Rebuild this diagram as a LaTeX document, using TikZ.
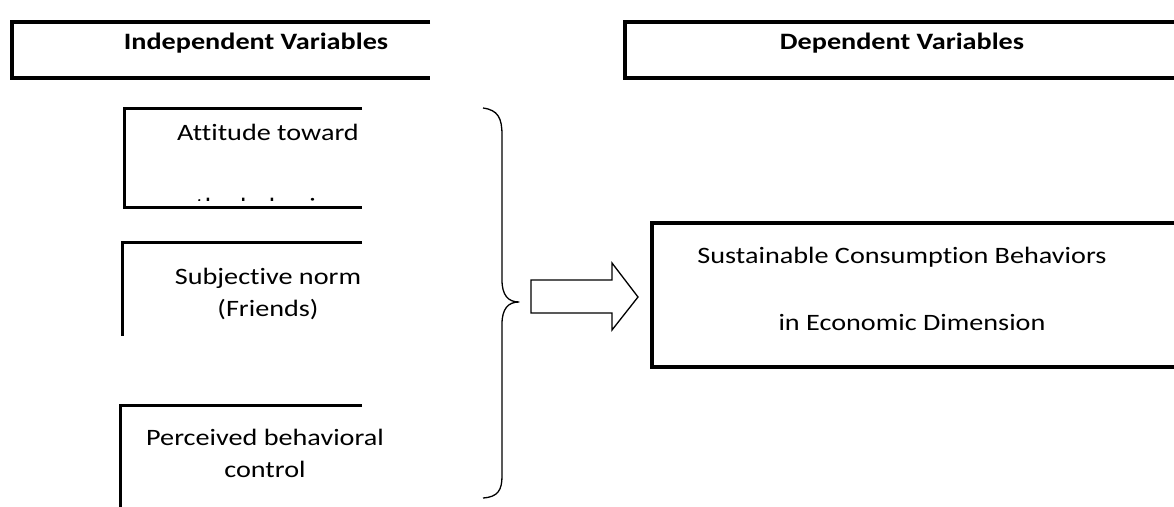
\documentclass[tikz,border=0pt]{standalone}
\usepackage{fontspec}
\setmainfont[FakeStretch=1.2, Ligatures=NoCommon]{Carlito}
\begin{document}
\begin{tikzpicture}[x=1pt, y=-1pt,
	lbl/.style={anchor=base, inner sep=0pt, font=\fontsize{23.5}{27}\selectfont},
	hdr/.style={lbl, font=\fontsize{23.5}{27}\selectfont\bfseries},
	frame/.style={line width=3.5pt},
	thin/.style={line width=1.3pt, line join=round}]
	\useasboundingbox (0,0) rectangle (1174,506);

	% headers
	\draw[frame] (430,22) -| (12,78) -- (430,78);
	\node[hdr] (hdrIndep) at (256,49) {Independent Variables};
	\draw[frame] (1180,22) -| (625,78) -- (1180,78);
	\node[hdr] (hdrDep) at (902,49) {Dependent Variables};

	% independent boxes
	\draw[frame, line width=3pt] (362,108) -| (124,207) -- (362,207);
	\node[lbl] (att1) at (268,140) {Attitude toward};
	\begin{scope}
		\clip (126,110) rectangle (362,200);
		\node[lbl] (att2) at (268,214) {the behavior};
	\end{scope}

	\draw[frame, line width=3pt] (362,242) -| (122,336);
	\node[lbl] (subj1) at (268,284) {Subjective norm};
	\node[lbl] (subj2) at (268,316) {(Friends)};

	\draw[frame, line width=3pt] (362,405) -| (120,510);
	\node[lbl] (perc1) at (265,445) {Perceived behavioral};
	\node[lbl] (perc2) at (265,477) {control};

	% brace and arrow
	\draw[thin] (483,108) .. controls (498,110) and (502,118) .. (502,135) -- (502,280)
		.. controls (502,295) and (508,302) .. (519,302)
		.. controls (508,302) and (502,309) .. (502,324) -- (502,476)
		.. controls (502,490) and (498,497) .. (483,498);
	\draw[thin, line join=miter] (531,280) -- (612,280) -- (612,263) -- (638,297)
		-- (612,330) -- (612,313) -- (531,313) -- cycle;

	% dependent box
	\draw[frame] (1180,223) -| (652,367) -- (1180,367);
	\node[lbl] (dep1) at (902,263) {Sustainable Consumption Behaviors};
	\node[lbl] (dep2) at (912,330) {in Economic Dimension};
\end{tikzpicture}
\end{document}
